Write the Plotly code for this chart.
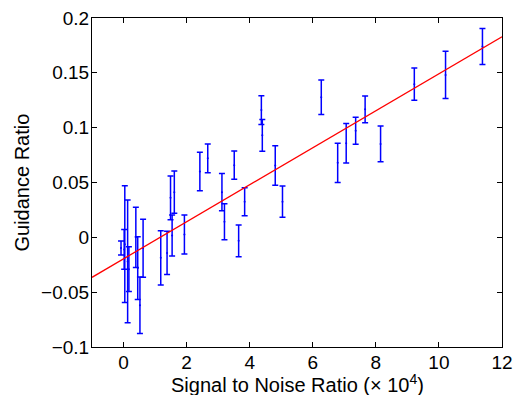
import plotly.graph_objects as go

# Signal to noise ratio (x 10^4)
snr = [-0.08, 0.04, 0.02, 0.13, 0.17, 0.39, 0.45, 0.52, 0.62, 1.18, 1.38, 1.49, 1.54,
       1.61, 1.93, 2.42, 2.67, 3.12, 3.20, 3.51, 3.65, 3.84, 4.37, 4.40, 4.81, 5.04,
       6.27, 6.79, 7.06, 7.36, 7.66, 8.15, 9.22, 10.21, 11.38]
# Guidance ratio (centre)
ratio = [-0.0097, -0.0062, -0.0110, -0.0220, -0.0290, 0.0000, -0.0280, -0.0620, -0.0100,
         -0.0187, -0.0142, 0.0360, 0.0017, 0.0412, 0.0026, 0.0600, 0.0721, 0.0412, 0.0142,
         0.0658, -0.0032, 0.0324, 0.1160, 0.0930, 0.0654, 0.0325, 0.1278, 0.0679, 0.0858,
         0.0971, 0.1167, 0.0852, 0.1397, 0.1481, 0.1740]
# Error half-widths
err = [0.0063, 0.0533, 0.0182, 0.0560, 0.0205, 0.0274, 0.0286, 0.0258, 0.0265,
       0.0247, 0.0197, 0.0200, 0.0187, 0.0193, 0.0178, 0.0175, 0.0131, 0.0170, 0.0164,
       0.0129, 0.0145, 0.0128, 0.0130, 0.0144, 0.0180, 0.0143, 0.0157, 0.0178, 0.0181,
       0.0123, 0.0122, 0.0163, 0.0147, 0.0216, 0.0164]

# Linear fit
fit_slope = 0.01688
fit_intercept = -0.0196
fit_x = [-1, 12]
fit_y = [fit_intercept + fit_slope * x for x in fit_x]

x_title = "Signal to Noise Ratio (× 10<sup>4</sup>)"
y_title = "Guidance Ratio"

FONT = "Liberation Sans, Arial, Helvetica, sans-serif"

fig = go.Figure()
fig.add_trace(go.Scatter(
    x=snr, y=ratio, mode="markers",
    marker=dict(color="rgb(0,0,255)", size=2),
    error_y=dict(type="data", array=err, visible=True, color="rgb(0,0,255)",
                 thickness=1.5, width=3),
    showlegend=False,
))
fig.add_trace(go.Scatter(
    x=fit_x, y=fit_y, mode="lines",
    line=dict(color="rgb(255,0,0)", width=1.3),
    showlegend=False,
))

axis_common = dict(
    showgrid=False, zeroline=False, showline=True, linecolor="black", linewidth=1,
    mirror="allticks", ticks="inside", ticklen=5, tickcolor="black",
    automargin=False, ticklabelstandoff=-2, ticklabeloverflow="allow",
    tickfont=dict(family=FONT, size=19, color="black"),
)
fig.update_layout(
    width=516, height=395,
    margin=dict(l=92, r=14, t=18, b=48),
    paper_bgcolor="white", plot_bgcolor="white",
    font=dict(family=FONT, size=19, color="black"),
    xaxis=dict(range=[-1, 12], tickvals=[0, 2, 4, 6, 8, 10, 12], **axis_common),
    yaxis=dict(range=[-0.1, 0.2], tickvals=[-0.1, -0.05, 0, 0.05, 0.1, 0.15, 0.2],
               **axis_common),
    annotations=[
        dict(text=x_title, xref="paper", yref="paper", x=0.5, y=0,
             xanchor="center", yanchor="middle", yshift=-36, showarrow=False,
             font=dict(family=FONT, size=20, color="black")),
        dict(text=y_title, xref="paper", yref="paper", x=0, y=0.5,
             xanchor="center", yanchor="middle", xshift=-71, textangle=-90,
             showarrow=False, font=dict(family=FONT, size=20, color="black")),
    ],
)
fig.write_html(
    "out.html",
    config={"displayModeBar": False},
    post_script="document.body.style.margin='0';document.body.style.overflow='hidden';",
)
